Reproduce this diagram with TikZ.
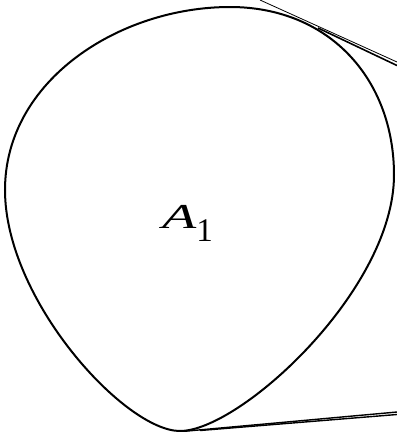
\documentclass[tikz,border=0pt]{standalone}
\usepackage{fontspec}
\newfontfamily\labelfont{Liberation Serif}[ItalicFont={Liberation Serif Italic}]
\begin{document}
\begin{tikzpicture}[x=1pt,y=-1pt]
        \useasboundingbox (0,0) rectangle (397,432);
        % Contorn de la regio
        \draw[line width=2pt] (230,7) .. controls (330,7) and (394,80) .. (394,175)
            .. controls (394,290) and (240,431) .. (180,431)
            .. controls (125,431) and (5,300) .. (5,190)
            .. controls (5,80) and (120,7) .. (230,7) -- cycle;
        \node[inner sep=0pt, anchor=base west] (a1) at (162,228) {\labelfont\fontsize{35}{36}\selectfont\scalebox{1.6}[1]{\itshape A}\raisebox{-13pt}{\fontsize{33}{33}\selectfont 1}};

        % Tangents
        \coordinate (t0) at (260,0);
        \coordinate (t1) at (318,28);
        \coordinate (r1) at (397,62);
        \coordinate (r2) at (397,65.5);
        \draw[line width=0.8pt] (t0) -- (r1);
        \draw[line width=1.6pt] (t1) -- (r2);

        \coordinate (b1) at (182,431.5);
        \coordinate (b2) at (200,430.5);
        \coordinate (s1) at (397,412);
        \coordinate (s2) at (397,414.5);
        \draw[line width=1.4pt] (b1) -- (s1);
        \draw[line width=1.4pt] (b2) -- (s2);
    \end{tikzpicture}
\end{document}
